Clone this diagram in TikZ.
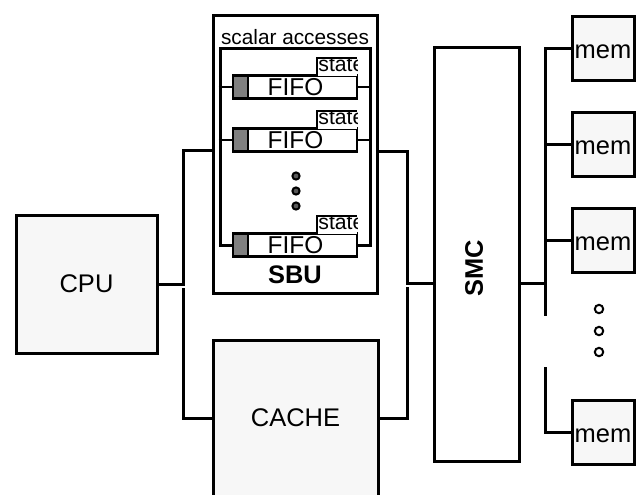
\documentclass[tikz,border=0pt]{standalone}
\usepackage{fontspec}
\setmainfont{Liberation Sans}
\definecolor{boxfill}{HTML}{F7F7F7}
\definecolor{cellgray}{HTML}{808080}
\begin{document}
\begin{tikzpicture}[x=0.5pt,y=-0.5pt,
  box/.style={draw=black,line width=1.5pt,inner sep=0pt},
  gbox/.style={box,fill=boxfill},
  bus/.style={draw=black,line width=1.5pt},
  thinline/.style={draw=black,line width=0.6pt},
  lbl/.style={font=\fontsize{12.75}{15}\selectfont,inner sep=0pt},
  blbl/.style={font=\fontsize{12.7}{15}\selectfont\bfseries,inner sep=0pt},
  fifobox/.style={draw=black,line width=1.2pt,fill=white,inner sep=0pt,minimum width=62pt,minimum height=11.5pt},
  memnode/.style={gbox,minimum width=31pt,minimum height=32pt}]
\useasboundingbox (0,0) rectangle (640,494);

% main boxes
\node[gbox,minimum width=70.5pt,minimum height=69pt,lbl] (cpu) at (86.5,284) {CPU};
\node[box,minimum width=82pt,minimum height=139pt] (sbu) at (295,154) {};
\node[box,minimum width=75pt,minimum height=98.5pt] (inner) at (295,146.5) {};
\node[lbl] (sa) at (295,37) {\fontsize{10.4}{12}\selectfont scalar accesses};
\node[blbl] (sbut) at (295,275) {SBU};
\node[box,minimum width=42.5pt,minimum height=207pt] (smc) at (476.5,254) {};
\node[blbl,rotate=90] (smct) at (474,268) {SMC};
\node[gbox,minimum width=82.5pt,minimum height=78pt,lbl] (cache) at (295.5,418) {CACHE};

% memories
\node[memnode] (mem1) at (603,48) {};
\node[memnode] (mem2) at (603,144) {};
\node[memnode] (mem3) at (603,240) {};
\node[memnode] (mem4) at (603,432) {};
\foreach \i/\y in {1/52,2/148,3/244,4/436}
  \node[lbl] (mt\i) at (603,\y) {mem};

% FIFOs
\foreach \i/\y in {1/87,2/140,3/245}{
  \node[fifobox] (f\i) at (295,\y) {};
  \draw[line width=1.2pt,fill=cellgray] (233,\y-11.5) rectangle (248,\y+11.5);
  \node[lbl] (ft\i) at (295.5,\y) {\fontsize{12.2}{14}\selectfont FIFO};
  \fill[white] (317,\y-29) rectangle (357,\y-11.5);
  \begin{scope}
    \clip (317,\y-29) rectangle (357,\y-11);
    \node[anchor=base west,inner sep=0pt,font=\fontsize{10.6}{12}\selectfont] (st\i) at (318,\y-15.5) {state};
  \end{scope}
  \draw[line width=1.4pt] (317,\y-11.5) |- (357,\y-29);
}
\draw[thinline] (inner.west |- f1.west) -- (f1.west);
\draw[thinline] (f1.east) -- (inner.east |- f1.east);
\draw[thinline] (inner.west |- f2.west) -- (f2.west);
\draw[thinline] (f2.east) -- (inner.east |- f2.east);

% dots
\foreach \y in {176,191,206}
  \draw[line width=1pt,fill=gray!70!black] (296,\y) circle[radius=1.8pt];
\foreach \y in {309,331,352}
  \draw[line width=1pt,fill=white] (599,\y) circle[radius=2.1pt];

% buses left
\coordinate (lt) at (183,150);
\coordinate (lb) at (183,288);
\draw[bus] (cpu.east) -| (lt) -- (lt -| sbu.west);
\draw[bus] (lb) |- (cache.west);

% buses middle
\coordinate (rt) at (407,151);
\coordinate (rj) at (407,283);
\coordinate (rb) at (407,287);
\draw[bus] (rt -| sbu.east) -| (rj) -- (rj -| smc.west);
\draw[bus] (rb) |- (cache.east);

% buses right
\coordinate (sj) at (545,283);
\coordinate (mtop) at (545,316);
\coordinate (mbot) at (545,367);
\draw[bus] (sj -| smc.east) -- (sj);
\draw[bus] (mem1.west) -| (mtop);
\draw[bus] (mem2.west -| mtop) -- (mem2.west);
\draw[bus] (mem3.west -| mtop) -- (mem3.west);
\draw[bus] (mbot) |- (mem4.west);
\end{tikzpicture}
\end{document}
